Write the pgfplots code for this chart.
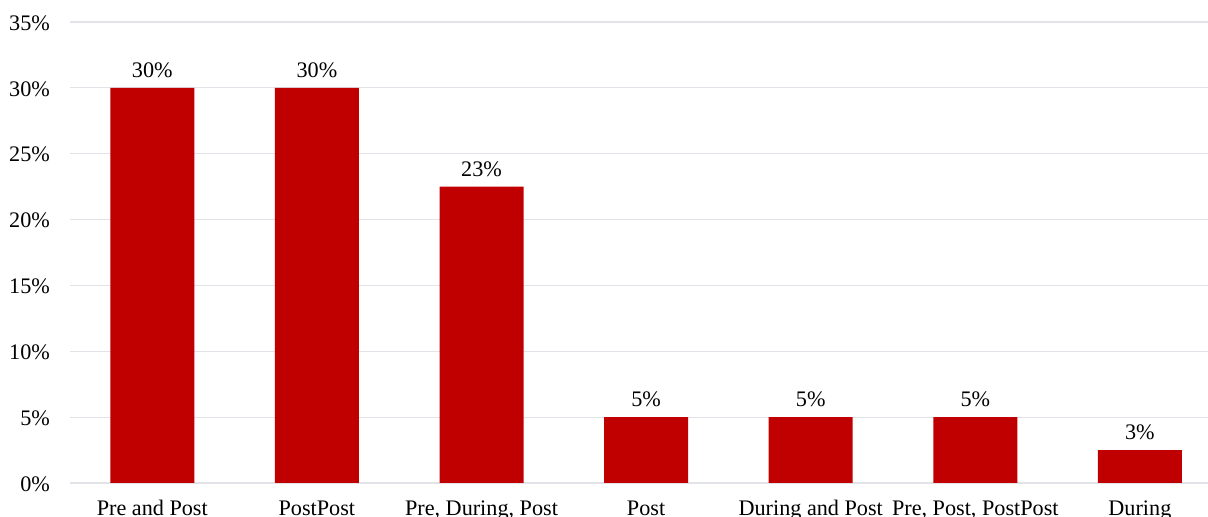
\documentclass[border=0pt]{standalone}
\usepackage{pgfplots}
\pgfplotsset{compat=1.18}
\usepackage{fontspec}
\setmainfont{Liberation Serif}
\definecolor{barred}{HTML}{C00000}
\definecolor{gridgray}{HTML}{E1E3E8}

% Share of responses by timing of the activity
\pgfplotstableread{
idx share
0 30
1 30
2 22.5
3 5
4 5
5 5
6 2.5
}\sharedata

\begin{document}
\begin{tikzpicture}
\path[use as bounding box, clip] (0,0) rectangle (604pt,258.5pt);
\begin{axis}[
  at={(35pt,17pt)}, anchor=south west,
  scale only axis,
  width=576.1pt, height=230.5pt,
  xmin=-0.5, xmax=6.5,
  ymin=0, ymax=35,
  ytick={0,5,...,35},
  yticklabel={\pgfmathprintnumber{\tick}\%},
  xtick=data,
  xticklabels={Pre and Post, PostPost, {Pre, During, Post}, Post, During and Post, {Pre, Post, PostPost}, During},
  ymajorgrids,
  grid style={gridgray, line width=0.6pt},
  axis line style={draw=none},
  major tick length=0pt,
  tick label style={font=\fontsize{11.1}{13}\selectfont},
  yticklabel style={xshift=-6.5pt, yshift=-0.5pt},
  xticklabel style={anchor=base, yshift=-16.3pt},
  /pgf/number format/assume math mode=true,
  every node near coord/.append style={font=\fontsize{11.1}{13}\selectfont, color=black, yshift=1.5pt},
  nodes near coords={\pgfmathprintnumber[fixed,precision=0]{\pgfplotspointmeta}\%},
]
\addplot[ybar, bar width=42pt, fill=barred, draw=none] table[x=idx, y=share] {\sharedata};
\end{axis}
\end{tikzpicture}
\end{document}
